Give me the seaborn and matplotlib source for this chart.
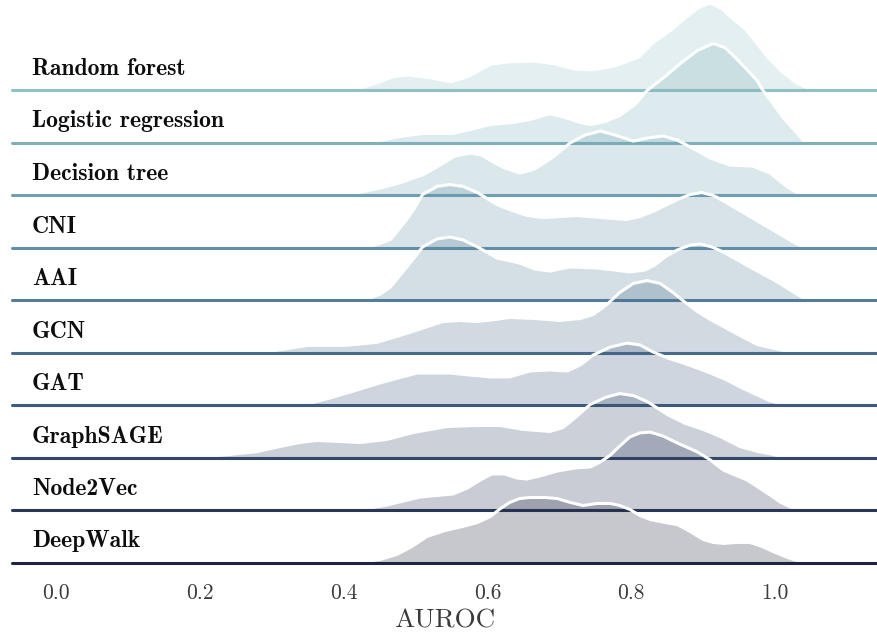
import numpy as np
import pandas as pd
import matplotlib
matplotlib.use("Agg")
import matplotlib.pyplot as plt
import seaborn as sns

# ---------------- data ----------------
models = ["Random forest", "Logistic regression", "Decision tree", "CNI", "AAI",
          "GCN", "GAT", "GraphSAGE", "Node2Vec", "DeepWalk"]

rf_auroc = [0.395, 0.42, 0.45, 0.47, 0.49, 0.52, 0.55, 0.575, 0.605, 0.63, 0.665, 0.695, 0.72,
            0.745, 0.775, 0.81, 0.83, 0.855, 0.88, 0.895, 0.91, 0.925, 0.935, 0.96, 0.99,
            1.01, 1.03, 1.045, 1.055]
rf_density = [0.0, 0.05, 0.4, 0.66, 0.73, 0.6, 0.4, 0.68, 1.27, 1.37, 1.41, 1.27, 1.02,
              0.98, 1.15, 1.6, 2.3, 2.93, 3.66, 4.05, 4.24, 4.0, 3.66, 2.93, 1.6,
              0.88, 0.34, 0.1, 0.0]

lr_auroc = [0.43, 0.441, 0.478, 0.51, 0.552, 0.576, 0.604, 0.636, 0.659, 0.687, 0.708,
            0.729, 0.743, 0.764, 0.784, 0.805, 0.822, 0.847, 0.868, 0.892, 0.914, 0.93,
            0.942, 0.958, 0.975, 0.983, 0.997, 1.011, 1.031, 1.039, 1.049]
lr_density = [0.0, 0.03, 0.29, 0.44, 0.44, 0.63, 0.88, 0.98, 1.12, 1.41, 1.22,
              0.98, 0.88, 1.02, 1.32, 1.85, 2.54, 3.22, 3.85, 4.49, 4.83, 4.63,
              4.24, 3.66, 3.02, 2.54, 1.9, 1.22, 0.44, 0.1, 0.0]

dt_auroc = [0.402, 0.413, 0.451, 0.478, 0.51, 0.534, 0.555, 0.576, 0.592, 0.608, 0.624,
            0.645, 0.666, 0.691, 0.715, 0.736, 0.757, 0.777, 0.803, 0.823, 0.844, 0.864,
            0.882, 0.91, 0.937, 0.969, 0.993, 1.017, 1.031, 1.042]
dt_density = [0.0, 0.05, 0.34, 0.59, 0.98, 1.46, 1.9, 2.05, 1.95, 1.61, 1.32,
              1.07, 1.27, 1.85, 2.54, 2.93, 3.12, 2.93, 2.63, 2.78, 2.88, 2.68,
              2.34, 1.8, 1.46, 1.41, 1.07, 0.39, 0.1, 0.0]

cni_auroc = [0.416, 0.437, 0.451, 0.465, 0.476, 0.488, 0.499, 0.51, 0.53, 0.548, 0.566,
             0.586, 0.613, 0.631, 0.655, 0.677, 0.701, 0.725, 0.757, 0.794, 0.812, 0.83,
             0.847, 0.864, 0.882, 0.898, 0.914, 0.93, 0.965, 1.003, 1.031, 1.042]
cni_density = [0.0, 0.05, 0.2, 0.39, 0.85, 1.37, 1.95, 2.59, 2.98, 3.07, 2.98,
               2.68, 2.1, 1.85, 1.56, 1.46, 1.51, 1.56, 1.46, 1.37, 1.51, 1.76,
               2.05, 2.34, 2.59, 2.68, 2.54, 2.24, 1.51, 0.73, 0.15, 0.0]

aai_auroc = [0.416, 0.433, 0.451, 0.465, 0.488, 0.51, 0.53, 0.548, 0.566, 0.586, 0.613,
             0.645, 0.666, 0.687, 0.715, 0.752, 0.777, 0.798, 0.819, 0.833, 0.847, 0.864,
             0.882, 0.896, 0.912, 0.928, 0.965, 1.003, 1.039, 1.049]
aai_density = [0.0, 0.05, 0.29, 0.63, 1.61, 2.59, 2.98, 3.07, 2.93, 2.59, 2.05,
               1.8, 1.51, 1.41, 1.61, 1.56, 1.46, 1.37, 1.46, 1.71, 2.1, 2.44,
               2.68, 2.73, 2.59, 2.34, 1.61, 0.88, 0.1, 0.0]

gcn_auroc = [0.284, 0.305, 0.349, 0.399, 0.446, 0.492, 0.538, 0.562, 0.586, 0.611, 0.631,
             0.666, 0.701, 0.729, 0.747, 0.766, 0.784, 0.803, 0.822, 0.84, 0.858, 0.875,
             0.892, 0.91, 0.928, 0.951, 0.975, 1.011, 1.028]
gcn_density = [0.0, 0.1, 0.34, 0.34, 0.49, 0.98, 1.51, 1.56, 1.51, 1.61, 1.71,
               1.66, 1.56, 1.66, 1.85, 2.34, 2.93, 3.37, 3.51, 3.37, 2.93, 2.44,
               2.0, 1.61, 1.27, 0.83, 0.39, 0.1, 0.0]

gat_auroc = [0.332, 0.349, 0.381, 0.409, 0.455, 0.502, 0.548, 0.576, 0.604, 0.631, 0.659,
             0.687, 0.711, 0.729, 0.747, 0.771, 0.794, 0.812, 0.83, 0.851, 0.872, 0.892,
             0.91, 0.933, 0.951, 0.975, 0.993, 1.011, 1.021]
gat_density = [0.0, 0.05, 0.34, 0.63, 1.12, 1.56, 1.56, 1.46, 1.37, 1.37, 1.66,
               1.71, 1.66, 1.95, 2.44, 2.83, 3.02, 2.93, 2.59, 2.29, 2.05, 1.8,
               1.56, 1.22, 0.88, 0.49, 0.2, 0.05, 0.0]

sage_auroc = [0.186, 0.2, 0.242, 0.28, 0.312, 0.339, 0.363, 0.395, 0.423, 0.46, 0.497,
              0.544, 0.583, 0.618, 0.65, 0.687, 0.705, 0.719, 0.743, 0.764, 0.784, 0.803,
              0.822, 0.85, 0.875, 0.9, 0.924, 0.951, 0.975, 0.997, 1.014]
sage_density = [0.0, 0.02, 0.15, 0.29, 0.54, 0.73, 0.83, 0.78, 0.73, 0.88, 1.22,
                1.51, 1.56, 1.56, 1.37, 1.27, 1.46, 1.85, 2.59, 2.93, 3.12, 3.02,
                2.73, 2.1, 1.66, 1.37, 1.02, 0.54, 0.3, 0.15, 0.0]

n2v_auroc = [0.409, 0.426, 0.46, 0.506, 0.552, 0.572, 0.59, 0.606, 0.624, 0.641, 0.655,
             0.673, 0.697, 0.722, 0.743, 0.757, 0.771, 0.784, 0.798, 0.812, 0.826, 0.844,
             0.864, 0.892, 0.91, 0.928, 0.944, 0.961, 0.989, 1.007, 1.021, 1.035]
n2v_density = [0.0, 0.03, 0.24, 0.63, 0.78, 1.07, 1.46, 1.76, 1.76, 1.56, 1.51,
               1.66, 1.9, 2.05, 2.1, 2.34, 2.68, 3.12, 3.56, 3.76, 3.8, 3.61,
               3.27, 2.83, 2.44, 1.95, 1.71, 1.46, 0.83, 0.39, 0.15, 0.0]

dw_auroc = [0.409, 0.427, 0.451, 0.474, 0.495, 0.516, 0.541, 0.566, 0.586, 0.604, 0.618,
            0.631, 0.645, 0.659, 0.68, 0.697, 0.715, 0.733, 0.752, 0.771, 0.784, 0.798,
            0.812, 0.826, 0.847, 0.864, 0.882, 0.9, 0.914, 0.928, 0.947, 0.965, 0.982,
            0.997, 1.014, 1.025, 1.039]
dw_density = [0.0, 0.03, 0.15, 0.39, 0.78, 1.27, 1.56, 1.76, 1.95, 2.24, 2.63,
              2.93, 3.12, 3.17, 3.17, 3.12, 2.93, 2.78, 2.88, 2.88, 2.78, 2.59,
              2.29, 2.1, 1.95, 1.85, 1.51, 1.12, 0.98, 0.93, 0.98, 0.98, 0.78,
              0.54, 0.29, 0.15, 0.0]

tick_values = [0.0, 0.2, 0.4, 0.6, 0.8, 1.0]
tick_labels = ["0.0", "0.2", "0.4", "0.6", "0.8", "1.0"]
x_label = "AUROC"

series = [(rf_auroc, rf_density), (lr_auroc, lr_density), (dt_auroc, dt_density),
          (cni_auroc, cni_density), (aai_auroc, aai_density), (gcn_auroc, gcn_density),
          (gat_auroc, gat_density), (sage_auroc, sage_density), (n2v_auroc, n2v_density),
          (dw_auroc, dw_density)]

frames = []
for name, (xs, ds) in zip(models, series):
    frames.append(pd.DataFrame({"model": name, "auroc": xs, "density": ds}))
df = pd.concat(frames, ignore_index=True)

# ---------------- style ----------------
sns.set_theme(style="white", rc={"axes.facecolor": (0, 0, 0, 0)})
plt.rcParams["font.family"] = ["cmr10", "DejaVu Serif"]
plt.rcParams["axes.unicode_minus"] = False

pal = sns.cubehelix_palette(len(models), rot=-.25, light=.7)

W, H = 878, 636
fig = plt.figure(figsize=(W / 100, H / 100), dpi=100)

left_px, right_px = 12, 878
row_h = 52.5
first_base = 90.0
xlim = (-0.061, 1.143)
ylim = (0, row_h / 20.5)

axes = []
for i, name in enumerate(models):
    base = first_base + i * row_h
    ax = fig.add_axes([left_px / W, (H - base) / H, (right_px - left_px) / W, row_h / H])
    axes.append(ax)
    c = pal[i]
    sub = df[df["model"] == name]
    ax.fill_between(sub["auroc"], sub["density"], color=c, alpha=0.25, lw=0, clip_on=False)
    sns.lineplot(data=sub, x="auroc", y="density", color="w", lw=2.2, ax=ax,
                 estimator=None, clip_on=False)
    ax.axhline(0, color=c, lw=2.2, clip_on=False, solid_capstyle="round")
    ax.text(20 / (right_px - left_px), 15 / row_h, name, transform=ax.transAxes,
            family=["cmb10", "DejaVu Serif"], fontsize=17, color="#0d0d0d",
            ha="left", va="baseline")
    ax.set_xlim(*xlim)
    ax.set_ylim(*ylim)
    ax.set_yticks([])
    ax.set_ylabel("")
    sns.despine(ax=ax, left=True, bottom=True)
    if i < len(models) - 1:
        ax.set_xticks([])
        ax.set_xlabel("")
    else:
        ax.set_xticks(tick_values)
        ax.set_xticklabels(tick_labels, fontsize=15.5, color="#3a3a3a")
        ax.tick_params(axis="x", length=0, pad=15)
        ax.set_xlabel(x_label, fontsize=19.5, color="#3a3a3a", labelpad=4)

fig.savefig("out.png", dpi=100)
